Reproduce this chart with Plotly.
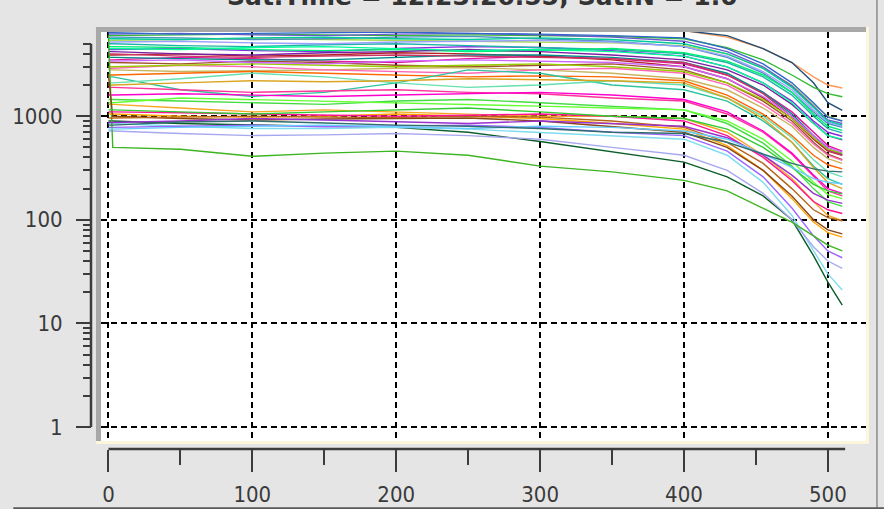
import plotly.graph_objects as go

# sample positions (channel index) shared by every curve
x_samples = [0, 3, 50, 100, 150, 200, 250, 300, 350, 400, 430, 455, 475, 490, 500, 510]

# --- upper family of curves ---
s01 = [6800, 6800, 6900, 7000, 7000, 7100, 7000, 7000, 6900, 6700, 5800, 4500, 3300, 2400, 2000, 1870]
s02 = [6600, 6600, 6700, 6800, 6900, 6900, 6800, 6800, 6800, 6700, 6000, 4500, 3300, 2100, 1350, 1140]
s03 = [6000, 6000, 6100, 6200, 6100, 6000, 6100, 6000, 5900, 5600, 4600, 3500, 2500, 1900, 1650, 1540]
s04 = [5400, 5400, 5500, 5600, 5500, 5400, 5300, 5200, 5100, 4800, 4000, 2900, 2000, 1300, 1000, 900]
s05 = [5800, 5800, 5700, 5500, 5600, 5800, 5900, 5600, 5300, 4700, 3700, 2600, 1700, 1100, 850, 780]
s06 = [4400, 4400, 4500, 4300, 4200, 4500, 4700, 4600, 4300, 3800, 3000, 2100, 1400, 900, 700, 640]
s07 = [3500, 3500, 3700, 3600, 3400, 3300, 3600, 3800, 3600, 3200, 2500, 1700, 1100, 700, 520, 460]
s08 = [3300, 3300, 3200, 3400, 3300, 3100, 3000, 3100, 3200, 2800, 2100, 1400, 900, 560, 430, 380]
s09 = [5000, 5000, 4800, 4700, 4900, 5000, 4800, 4600, 4400, 4000, 3300, 2400, 1600, 1000, 760, 690]
s10 = [4700, 4700, 4600, 4400, 4300, 4400, 4200, 4300, 4500, 4100, 3400, 2500, 1700, 1050, 800, 730]
s11 = [3900, 3900, 4000, 3800, 3900, 4100, 4000, 3800, 3500, 3000, 2300, 1500, 950, 600, 460, 420]
s12 = [4200, 4200, 4000, 3900, 4100, 4200, 4400, 4200, 3900, 3500, 2800, 2000, 1300, 850, 650, 590]
s13 = [5200, 5200, 5300, 5100, 5000, 5200, 5300, 5400, 5200, 4700, 3800, 2700, 1800, 1150, 880, 800]
s14 = [2800, 2800, 2700, 2750, 2800, 2900, 2950, 2800, 2600, 2300, 1800, 1200, 800, 500, 390, 350]
s15 = [2900, 2900, 3100, 3000, 2800, 2700, 2600, 2800, 2900, 2600, 2000, 1300, 850, 540, 420, 375]
s16 = [3700, 3700, 3600, 3500, 3500, 3700, 3900, 3900, 3700, 3300, 2600, 1700, 1050, 650, 480, 430]
s17 = [6200, 6200, 6300, 6100, 6000, 6200, 6300, 6100, 5800, 5300, 4200, 3000, 1950, 1250, 920, 850]
s18 = [5600, 5600, 5500, 5700, 5800, 5600, 5500, 5700, 5500, 5000, 4000, 2900, 1900, 1200, 900, 820]
s19 = [4000, 4000, 3800, 3700, 3800, 3900, 3800, 3700, 3600, 3300, 2500, 1650, 1000, 620, 470, 420]
s20 = [6400, 6400, 6200, 6300, 6400, 6500, 6300, 6200, 6000, 5700, 4500, 3200, 2100, 1350, 980, 900]
s21 = [3000, 3000, 3100, 3200, 3100, 3000, 3100, 3200, 3000, 2700, 2100, 1450, 950, 620, 480, 440]
s22 = [2500, 2500, 2600, 2700, 2600, 2500, 2400, 2450, 2400, 2200, 1600, 1050, 650, 420, 340, 310]
s23 = [4500, 4500, 4400, 4600, 4700, 4500, 4300, 4400, 4200, 3800, 3000, 2100, 1350, 850, 650, 600]
s24 = [3400, 3400, 3500, 3300, 3200, 3400, 3500, 3400, 3300, 3000, 2300, 1550, 1000, 650, 500, 450]

# --- middle family ---
s25 = [2400, 2400, 1800, 1550, 1700, 2100, 2800, 2600, 2000, 1800, 1400, 900, 560, 330, 250, 220]
s26 = [1900, 1900, 1800, 1700, 1750, 1800, 1700, 1650, 1500, 1400, 1050, 700, 430, 260, 190, 170]
s27 = [1300, 1300, 1200, 1100, 1150, 1100, 1050, 1000, 1000, 950, 700, 420, 250, 150, 110, 98]
s28 = [1450, 1450, 1400, 1350, 1300, 1400, 1450, 1350, 1250, 1150, 850, 550, 330, 200, 150, 135]
s29 = [2100, 2100, 2300, 2600, 2400, 2100, 1900, 2000, 2200, 2000, 1500, 1000, 620, 380, 290, 260]
s30 = [1600, 1600, 1650, 1600, 1550, 1600, 1650, 1700, 1600, 1450, 1100, 720, 440, 270, 200, 180]
s31 = [1350, 1350, 1500, 1450, 1400, 1350, 1300, 1250, 1200, 1150, 900, 600, 370, 230, 175, 160]
s32 = [2000, 2000, 2100, 2200, 2150, 2200, 2300, 2250, 2200, 2100, 1500, 950, 560, 320, 230, 200]

# --- lower family ---
s33 = [900, 900, 850, 820, 800, 780, 700, 570, 450, 360, 260, 170, 100, 45, 25, 15]
s34 = [850, 850, 800, 760, 760, 780, 750, 700, 650, 600, 420, 230, 110, 50, 30, 21]
s35 = [720, 720, 680, 650, 660, 680, 650, 600, 500, 420, 300, 180, 100, 55, 40, 34]
s36 = [780, 780, 800, 820, 790, 800, 820, 780, 700, 650, 460, 260, 130, 70, 50, 43]
s37 = [6000, 500, 480, 410, 440, 460, 420, 330, 290, 240, 190, 130, 95, 70, 57, 50]
s38 = [1050, 1050, 1000, 980, 1000, 1050, 1000, 950, 850, 750, 520, 300, 160, 95, 75, 68]
s39 = [2500, 1000, 950, 920, 940, 950, 960, 900, 800, 700, 500, 300, 170, 100, 80, 73]
s40 = [960, 960, 980, 1000, 980, 970, 1000, 980, 900, 780, 560, 350, 200, 125, 105, 98]
s41 = [1100, 1100, 1080, 1050, 1020, 1000, 1020, 1050, 1000, 900, 650, 400, 240, 150, 125, 115]
s42 = [870, 870, 900, 950, 920, 880, 850, 900, 850, 800, 620, 420, 270, 180, 155, 144]
s43 = [1150, 1150, 1100, 1050, 1100, 1150, 1200, 1100, 1000, 950, 750, 500, 320, 220, 190, 178]
s44 = [750, 750, 780, 800, 820, 790, 760, 800, 780, 720, 600, 430, 320, 250, 230, 223]
s45 = [820, 820, 880, 900, 860, 820, 800, 760, 700, 680, 560, 430, 350, 310, 295, 290]

series = [s01, s02, s03, s04, s05, s06, s07, s08, s09, s10, s11, s12, s13, s14, s15,
          s16, s17, s18, s19, s20, s21, s22, s23, s24, s25, s26, s27, s28, s29, s30,
          s31, s32, s33, s34, s35, s36, s37, s38, s39, s40, s41, s42, s43, s44, s45]

colors = ["#ff9955", "#1f4e79", "#33bb33", "#a6d854", "#4a90c0", "#8a2be2", "#e0189c",
          "#a0522d", "#20b2aa", "#00ee76", "#b22222", "#7b1fa2", "#9aa0ff", "#c8b560",
          "#ff69b4", "#008b8b", "#6a5acd", "#00cc99", "#cc3366", "#3366cc", "#99cc00",
          "#ff6600", "#00ff99", "#cc66ff",
          "#2ec4a0", "#ff3399", "#f5a623", "#44dd44", "#66e0b0", "#ff00cc", "#66ff33",
          "#daa520",
          "#0b5e2a", "#7fdcef", "#a8a8f0", "#9966ff", "#3cb521", "#ffa500", "#8b4513",
          "#b5651d", "#ff1493", "#9932cc", "#32cd32", "#66ccff", "#2f6f6f"]

x_ticks = [0, 100, 200, 300, 400, 500]
x_minor = [50, 150, 250, 350, 450]
y_ticks = [1, 10, 100, 1000]
y_minor = [2, 3, 4, 5, 6, 7, 8, 9, 20, 30, 40, 50, 60, 70, 80, 90,
           200, 300, 400, 500, 600, 700, 800, 900, 2000, 3000, 4000, 5000]
x_axis_end = 512
y_axis_top = 5000
title_text = "Sat.Time = 12:23:26.55; Sat.N = 1.0"

W, H = 884, 509
ML, MR, MT, MB = 88, 18, 32, 61
PW, PH = W - ML - MR, H - MT - MB
H_EXTRA = 10  # the page loses this much height when drawn; compensate


def px(x):
    return (x - ML) / PW


def py(y):
    return (H - MB - y) / PH


fig = go.Figure()
for vals, col in zip(series, colors):
    fig.add_trace(go.Scatter(x=x_samples, y=vals, mode="lines",
                             line=dict(color=col, width=1.4),
                             showlegend=False, hoverinfo="skip"))

tick_font = dict(family="DejaVu Sans Condensed, DejaVu Sans", size=22, color="#3a3a3a")
axis_col = "#3c3c3c"

fig.update_layout(
    width=W, height=H + H_EXTRA,
    margin=dict(l=ML, r=MR, t=MT, b=MB, pad=0),
    paper_bgcolor="#e5e5e5",
    plot_bgcolor="white",
    xaxis=dict(
        domain=[px(98), 1], range=[-5.2, 526.5], anchor="free", position=0,
        tickvals=x_ticks, ticktext=[str(v) for v in x_ticks],
        ticks="outside", ticklen=22, tickwidth=2, tickcolor=axis_col,
        ticklabelstandoff=4, tickfont=tick_font,
        showline=False, zeroline=False,
        showgrid=True, gridcolor="black", gridwidth=1.6, griddash="6px,4px",
        minor=dict(tickvals=x_minor, ticks="outside", ticklen=15, tickwidth=2,
                   tickcolor=axis_col, showgrid=False),
    ),
    yaxis=dict(
        type="log", domain=[py(440), 1], range=[-0.1355, 3.813],
        anchor="free", position=0,
        tickvals=y_ticks, ticktext=[str(v) for v in y_ticks],
        ticks="outside", ticklen=15, tickwidth=2, tickcolor=axis_col,
        ticklabelstandoff=9, tickfont=tick_font,
        showline=False, zeroline=False,
        showgrid=True, gridcolor="black", gridwidth=1.6, griddash="6px,4px",
        minor=dict(tickvals=y_minor, ticks="outside", ticklen=8, tickwidth=2,
                   tickcolor=axis_col, showgrid=False),
    ),
)

shapes = [
    # sunken frame round the plotting area
    dict(type="rect", xref="paper", yref="paper", x0=px(93), x1=1, y0=1, y1=py(27),
         fillcolor="#a8a8a8", line=dict(width=0), layer="above"),
    dict(type="rect", xref="paper", yref="paper", x0=px(93), x1=px(98), y0=py(440), y1=py(27),
         fillcolor="#a8a8a8", line=dict(width=0), layer="above"),
    dict(type="rect", xref="paper", yref="paper", x0=px(93), x1=px(869), y0=py(443), y1=py(440),
         fillcolor="#fbf6dc", line=dict(width=0), layer="above"),
    dict(type="rect", xref="paper", yref="paper", x0=1, x1=px(869), y0=py(443), y1=py(27),
         fillcolor="#fbf6dc", line=dict(width=0), layer="above"),
    # axis lines
    dict(type="line", xref="x", yref="paper", x0=x_ticks[0], x1=x_axis_end, y0=0, y1=0,
         line=dict(color=axis_col, width=2.5)),
    dict(type="line", xref="paper", yref="y", x0=0, x1=0, y0=y_ticks[0], y1=y_axis_top,
         line=dict(color=axis_col, width=2.5)),
    # window edges
    dict(type="line", xref="paper", yref="paper", x0=px(877), x1=px(877), y0=py(0), y1=py(H),
         line=dict(color="#a0a0a0", width=2)),
    dict(type="line", xref="paper", yref="paper", x0=px(10), x1=px(W), y0=py(507), y1=py(507),
         line=dict(color="#5a5a5a", width=2)),
]
fig.update_layout(shapes=shapes)

fig.add_annotation(
    text=title_text, xref="paper", yref="paper", x=px(481), y=py(13),
    xanchor="center", yanchor="bottom", showarrow=False,
    font=dict(family="DejaVu Sans", size=25, color="#333333", weight="bold"),
)

fig.write_html("out.html")
